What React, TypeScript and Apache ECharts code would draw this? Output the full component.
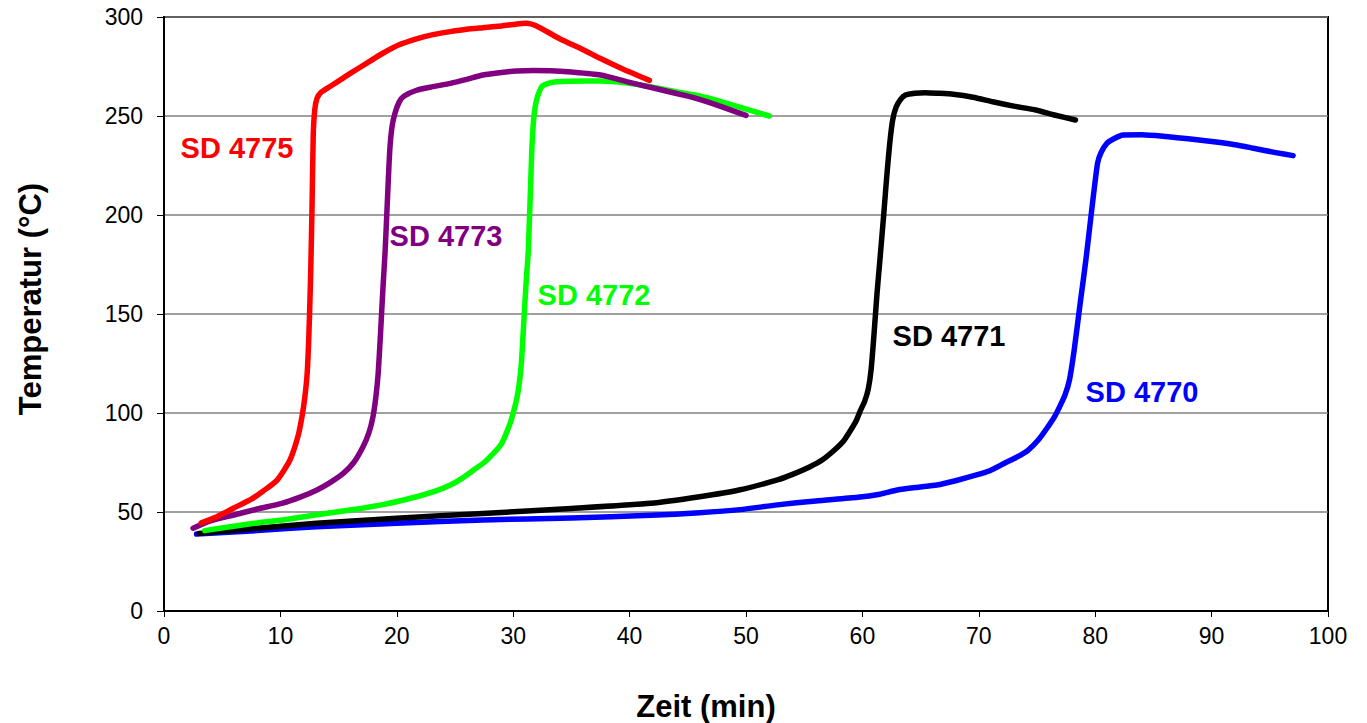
import React, { useEffect, useRef } from "react";
import * as echarts from "echarts";

const xTicks = { min: 0, max: 100, interval: 10 };
const yTicks = { min: 0, max: 300, interval: 50 };

const sd4775: [number, number][] = [
  [3.2, 44.5], [4.5, 47.5], [6, 52], [7.5, 56.5], [8.5, 60.5], [9.7, 66], [10.8, 76], [11.5, 88], [11.85, 98],
  [12.1, 108], [12.3, 120], [12.45, 140], [12.6, 170], [12.72, 205], [12.82, 240], [12.95, 253], [13.15, 259],
  [13.5, 262], [14.3, 265], [16, 271.5], [17.5, 277], [18.8, 281.7], [20.2, 286], [21.7, 289], [23, 291],
  [24.6, 292.6], [26, 293.8], [27.4, 294.6], [29, 295.5], [30.3, 296.5], [31.1, 296.8], [32, 295.5], [34, 289],
  [36, 283.5], [37.5, 279], [39.5, 273.5], [41.7, 268],
];

const sd4773: [number, number][] = [
  [2.5, 41.8], [4, 45.5], [6, 48.5], [8, 51.5], [10.2, 54.5], [11.7, 57.5], [13.1, 61], [14.3, 65], [15.4, 69.5],
  [16.3, 75], [17.1, 83], [17.6, 90], [17.95, 98], [18.2, 108], [18.4, 120], [18.6, 140], [18.8, 162], [19, 182],
  [19.25, 215], [19.4, 233], [19.6, 245], [19.85, 251.5], [20.2, 257], [20.6, 260], [21.7, 263], [23, 264.7],
  [24.6, 266.5], [26, 268.5], [27.4, 270.7], [29, 272], [30.3, 272.7], [31.7, 273], [33.2, 272.9], [35, 272.2],
  [37.5, 270.7], [40, 267], [42.5, 263.5], [45, 260], [46, 258.4], [48, 254.5], [50, 250.3],
];

const sd4772: [number, number][] = [
  [3.5, 40.6], [6, 42.8], [8, 44.5], [10.2, 46], [13, 48.5], [16, 51], [19, 54], [21.7, 57.7], [23.3, 60.5],
  [24.6, 63.6], [25.6, 67], [26.6, 71.2], [27.5, 75], [28.3, 79.6], [29, 84.5], [29.4, 89.7], [29.75, 95],
  [30, 100], [30.3, 107], [30.5, 114], [30.7, 125], [30.9, 145], [31.1, 165], [31.3, 182], [31.6, 233],
  [31.75, 248], [31.9, 255], [32.1, 260], [32.45, 264.8], [33, 266.5], [33.7, 267.3], [35, 267.6],
  [37.5, 267.7], [40, 266.5], [42, 264.5], [44, 262.3], [46, 260.1], [48, 257], [50, 253.5], [52, 250],
];

const sd4771: [number, number][] = [
  [3, 39.2], [8, 41.8], [13.1, 44.3], [20, 46.8], [27.4, 49.3], [35, 51.8], [41.8, 54.4], [46, 57.7],
  [49.4, 61.1], [52.7, 66.2], [54, 69], [55.5, 72.9], [56.6, 76.5], [57.6, 81.3], [58.4, 86], [59, 91.4],
  [59.5, 96.5], [59.85, 101.5], [60.2, 106], [60.5, 112], [60.75, 122], [61, 140], [61.25, 160], [61.5, 177],
  [61.84, 200.8], [62.1, 220], [62.35, 236.2], [62.6, 248], [62.9, 254.5], [63.3, 258.5], [63.7, 260.6],
  [64.5, 261.5], [65.4, 261.8], [66.5, 261.5], [67.8, 261], [69.5, 259.5], [71.2, 257.2], [73, 255],
  [74.9, 253], [76.5, 250.5], [78.3, 248],
];

const sd4770: [number, number][] = [
  [2.8, 38.9], [8, 40.6], [13.1, 42.6], [20, 44.3], [27.4, 46], [35, 47], [41.8, 48.3], [46, 49.6],
  [49.5, 51.2], [52.7, 53.6], [56, 55.6], [59.6, 57.4], [61.5, 59], [63, 61.1], [64.8, 62.5], [66.4, 63.6],
  [68, 65.8], [69.8, 68.7], [71, 71], [72.2, 74.6], [73.3, 77.8], [74.25, 81.3], [75.2, 87], [75.95, 93.1],
  [76.5, 98], [76.95, 103.2], [77.4, 109], [77.8, 117], [78.2, 132], [78.7, 155], [79.2, 177.3],
  [79.7, 202.5], [80.2, 226.1], [80.5, 231.5], [81, 236.2], [81.6, 238.5], [82.4, 240.4], [84, 240.5],
  [86.1, 239.6], [88, 238.5], [90.2, 237], [92, 235.5], [93.6, 233.7], [95.5, 231.5], [97, 230],
];

const seriesNames = ["SD 4770", "SD 4771", "SD 4772", "SD 4773", "SD 4775"];
const seriesData = [sd4770, sd4771, sd4772, sd4773, sd4775];
const seriesColors = ["#0000FF", "#000000", "#00FF00", "#800080", "#FF0000"];

const xTitle = "Zeit (min)";
const yTitle = "Temperatur (°C)";

const FONT = "'Liberation Sans', Arial, sans-serif";

export default function App() {
  const ref = useRef<HTMLDivElement>(null);
  useEffect(() => {
    document.body.style.margin = "0";
    if (!ref.current) return;
    const chart = echarts.init(ref.current, null, { renderer: "svg" });
    const labelPos = [
      [1142, 392],
      [949, 336],
      [594, 295],
      [446, 236],
      [237, 148],
    ];
    chart.setOption({
      animation: false,
      backgroundColor: "#ffffff",
      grid: {
        left: 164,
        right: 39,
        top: 17,
        bottom: 112,
        show: true,
        borderColor: "#000000",
        borderWidth: 2,
        containLabel: false,
      },
      xAxis: {
        type: "value",
        min: xTicks.min,
        max: xTicks.max,
        interval: xTicks.interval,
        axisLine: { show: true, onZero: false, lineStyle: { color: "#000000", width: 2 } },
        axisTick: { show: true, inside: false, length: 6, lineStyle: { color: "#000000", width: 1 } },
        axisLabel: { color: "#000000", fontSize: 23, fontFamily: FONT, margin: 13 },
        splitLine: { show: false },
      },
      yAxis: {
        type: "value",
        min: yTicks.min,
        max: yTicks.max,
        interval: yTicks.interval,
        axisLine: { show: true, onZero: false, lineStyle: { color: "#000000", width: 2 } },
        axisTick: { show: true, inside: false, length: 7, lineStyle: { color: "#000000", width: 1 } },
        axisLabel: { color: "#000000", fontSize: 23, fontFamily: FONT, margin: 21 },
        splitLine: { show: true, lineStyle: { color: "#808080", width: 1.5 } },
      },
      series: seriesData.map((d, i) => ({
        name: seriesNames[i],
        type: "line",
        data: d,
        showSymbol: false,
        symbol: "none",
        smooth: 0.2,
        lineStyle: { color: seriesColors[i], width: 5.5, cap: "round", join: "round" },
        itemStyle: { color: seriesColors[i] },
      })),
      graphic: [
        ...seriesNames.map((n, i) => ({
          type: "text",
          x: labelPos[i][0],
          y: labelPos[i][1],
          style: {
            text: n,
            fill: seriesColors[i],
            font: `bold 29px ${FONT}`,
            textAlign: "center",
            textVerticalAlign: "middle",
          },
        })),
        {
          type: "text",
          x: 706,
          y: 706,
          style: {
            text: xTitle,
            fill: "#000000",
            font: `bold 31px ${FONT}`,
            textAlign: "center",
            textVerticalAlign: "middle",
          },
        },
        {
          type: "text",
          x: 30,
          y: 299,
          rotation: Math.PI / 2,
          style: {
            text: yTitle,
            fill: "#000000",
            font: `bold 31px ${FONT}`,
            textAlign: "center",
            textVerticalAlign: "middle",
          },
        },
      ],
    });
    return () => chart.dispose();
  }, []);
  return <div ref={ref} style={{ width: 1367, height: 723 }} />;
}
